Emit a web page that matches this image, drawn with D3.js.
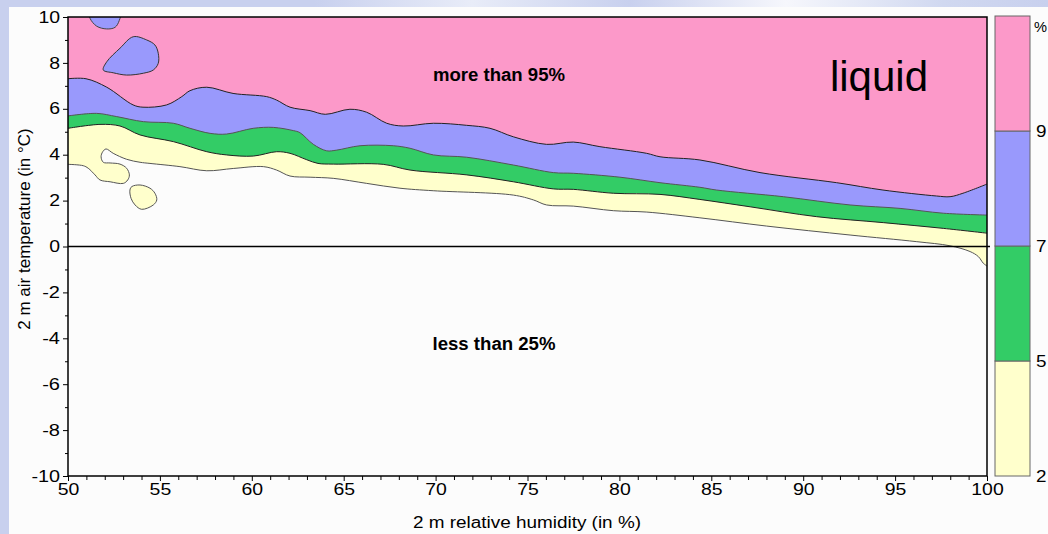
<!DOCTYPE html>
<html>
<head>
<meta charset="utf-8">
<script src="https://cdn.jsdelivr.net/npm/d3@7"></script>
<style>
  body { margin: 0; background: #fcfcfc; }
  svg { display: block; font-family: "Liberation Sans", Arial, sans-serif; }
</style>
</head>
<body>
<div id="chart"></div>
<script>
// contour boundaries, [relative humidity %, temperature °C]
const line95 = [[50,7.31],[50.98,7.31],[52.11,6.94],[53.54,6.17],[54.08,6.07],[55.37,6.17],[56.19,6.53],[56.64,6.79],[57.55,6.94],[58.98,6.67],[60.81,6.53],[61.35,6.38],[62.08,6.07],[63.17,5.92],[64.0,5.76],[65.34,5.98],[66.25,5.85],[67.34,5.37],[68.24,5.25],[69.88,5.37],[71.69,5.28],[72.96,5.15],[74.23,4.78],[76.04,4.45],[77.49,4.55],[78.94,4.35],[81.48,4.06],[82.21,3.91],[84.38,3.77],[87.65,3.22],[91.82,2.78],[94.34,2.46],[97.26,2.2],[97.99,2.17],[98.69,2.32],[100,2.72]];
const line75 = [[50,5.69],[51.56,5.8],[52.65,5.66],[54.1,5.44],[55.73,5.37],[56.64,5.15],[57.73,4.93],[58.63,4.9],[60.08,5.15],[61.17,5.19],[62.26,5.05],[62.62,4.96],[63.35,4.45],[64.07,4.17],[64.62,4.2],[65.89,4.39],[67.7,4.39],[68.61,4.28],[69.88,3.99],[71.69,3.89],[74.23,3.55],[76.41,3.22],[77.49,3.19],[80.03,3.02],[82.21,2.78],[84.38,2.58],[85.29,2.46],[88.92,2.17],[92.55,1.81],[95.27,1.66],[97.63,1.45],[100,1.37]];
const line50 = [[50,5.15],[51.74,5.32],[52.83,5.25],[53.92,4.86],[55.73,4.57],[57.55,4.13],[58.63,3.99],[60.08,3.94],[61.35,4.13],[62.08,4.06],[62.99,3.78],[63.6,3.62],[64.43,3.59],[67.15,3.58],[68.61,3.33],[71.7,3.12],[74.23,2.82],[76.41,2.51],[77.49,2.49],[79.67,2.32],[82.21,2.27],[84.38,2.05],[87.11,1.73],[90.73,1.3],[94.36,1.04],[97.62,0.79],[100,0.58]];
const line25 = [[50,3.58],[50.83,3.52],[51.1,3.41],[51.47,3.12],[51.74,2.9],[52.29,2.82],[53.01,2.75],[53.25,2.9],[53.34,3.12],[53.19,3.41],[52.83,3.59],[52.29,3.64],[51.92,3.67],[51.8,3.91],[51.89,4.13],[52.07,4.25],[52.46,4.06],[53.19,3.8],[53.92,3.67],[54.46,3.62],[56.09,3.48],[57.55,3.3],[58.99,3.4],[60.63,3.48],[61.35,3.33],[62.08,3.07],[63.17,3.02],[64.43,2.97],[66.25,2.75],[68.06,2.54],[69.87,2.43],[74.23,2.24],[75.32,2.03],[76.04,1.81],[77.49,1.76],[79.67,1.56],[81.49,1.5],[84.38,1.25],[88.01,0.89],[92.55,0.5],[96.18,0.21],[97.99,0.03],[99.08,-0.22],[99.53,-0.44],[99.8,-0.73],[100,-0.85]];

// closed islands
const blueIsland1 = [[51.15,10.2],[51.2,9.94],[51.56,9.6],[52.1,9.48],[52.56,9.55],[52.79,9.85],[52.85,10.2]];
const blueIsland2 = [[51.92,7.69],[52.11,8.05],[52.83,8.64],[53.55,9.14],[54.28,9.0],[54.73,8.78],[54.91,8.42],[54.91,7.98],[54.64,7.69],[54.1,7.55],[53.19,7.47],[52.46,7.57]];
const yellowIsland = [[53.37,2.46],[53.47,2.61],[53.92,2.68],[54.46,2.54],[54.73,2.32],[54.83,2.03],[54.64,1.81],[54.01,1.62],[53.65,1.81],[53.43,2.1]];

const bandColors = ["#ffffcc", "#33cc66", "#9999fc", "#fc99c9"];
// the legend labels run off the right edge of the slide, only their first glyph shows
const legendLabels = ["2", "5", "7", "9", "%"];
const xTicks = d3.range(50, 101, 5);
const yTicks = d3.range(-10, 11, 2);

const W = 1048, H = 534;
const mLeft = 68, mRight = 987, mTop = 17, mBottom = 476;

const svg = d3.select("#chart").append("svg")
  .attr("width", W).attr("height", H);

// slide background
const grad = svg.append("defs").append("linearGradient").attr("id", "topg");
grad.selectAll("stop")
  .data([[0, "#c8d0ee"], [0.3, "#c8d0ee"], [0.45, "#e8ecf8"], [0.6, "#c8d0ee"], [0.75, "#f6f7fc"], [0.9, "#d0d8f0"], [1, "#c8d0ee"]])
  .enter().append("stop")
  .attr("offset", d => d[0]).attr("stop-color", d => d[1]);
svg.append("rect").attr("width", W).attr("height", 7).attr("fill", "url(#topg)");
svg.append("rect").attr("y", 0).attr("width", 9).attr("height", H).attr("fill", "#c8d0ee");

const x = d3.scaleLinear().domain([50, 100]).range([mLeft, mRight]);
const y = d3.scaleLinear().domain([-10, 10]).range([mBottom, mTop]);

const plot = svg.append("g");
plot.append("clipPath").attr("id", "clip")
  .append("rect").attr("x", mLeft).attr("y", mTop).attr("width", mRight - mLeft).attr("height", mBottom - mTop);

const g = plot.append("g").attr("clip-path", "url(#clip)");
g.append("rect").attr("x", mLeft).attr("y", mTop).attr("width", mRight - mLeft).attr("height", mBottom - mTop).attr("fill", "#fcfcfc");

const line = d3.line().x(d => x(d[0])).y(d => y(d[1])).curve(d3.curveCatmullRom.alpha(0.5));

// area above a boundary: close the path through the top corners
function above(pts) {
  return line(pts) + `L${x(100) + 2},${y(10) - 2}L${x(50) - 2},${y(10) - 2}Z`;
}

[line25, line50, line75, line95].forEach((pts, i) => {
  g.append("path").attr("d", above(pts)).attr("fill", bandColors[i]);
});
[line25, line50, line75, line95].forEach((pts, i) => {
  g.append("path").attr("d", line(pts)).attr("fill", "none")
    .attr("stroke", i % 2 ? "#222" : "#555").attr("stroke-width", 1);
});

const closed = d3.line().x(d => x(d[0])).y(d => y(d[1])).curve(d3.curveCatmullRomClosed.alpha(0.5));
g.append("path").attr("d", closed(blueIsland1)).attr("fill", bandColors[2]).attr("stroke", "#444");
g.append("path").attr("d", closed(blueIsland2)).attr("fill", bandColors[2]).attr("stroke", "#333");
g.append("path").attr("d", closed(yellowIsland)).attr("fill", bandColors[0]).attr("stroke", "#555");

// zero line
plot.append("line").attr("x1", mLeft).attr("x2", mRight + 3)
  .attr("y1", y(0)).attr("y2", y(0)).attr("stroke", "#000").attr("stroke-width", 1.5);

// frame
plot.append("rect").attr("x", mLeft).attr("y", mTop).attr("width", mRight - mLeft).attr("height", mBottom - mTop)
  .attr("fill", "none").attr("stroke", "#000").attr("stroke-width", 1.5);

// the slide is stretched sideways, so widen the glyphs a bit
const wideLen = d => String(d).replace("-", "").length * 10.8 + (d < 0 ? 7 : 0);

// axes
svg.append("g").attr("transform", `translate(${mLeft},0)`)
  .call(d3.axisLeft(y).tickValues(yTicks).tickSize(5).tickPadding(3).tickFormat(d => String(d)));
svg.append("g").attr("transform", `translate(${mLeft},0)`)
  .call(d3.axisLeft(y).tickValues(d3.range(-9, 10, 2)).tickSize(3).tickFormat(""));
svg.append("g").attr("transform", `translate(0,${mBottom})`)
  .call(d3.axisBottom(x).tickValues(xTicks).tickSize(5).tickPadding(3));
svg.append("g").attr("transform", `translate(0,${mBottom})`)
  .call(d3.axisBottom(x).tickValues(d3.range(50, 101, 1).filter(v => v % 5)).tickSize(4).tickFormat(""));
svg.selectAll(".domain").remove();
svg.selectAll(".tick line").attr("stroke", "#000");
svg.selectAll(".tick text").attr("font-size", 16).attr("fill", "#000")
  .attr("font-family", "'Liberation Sans', Arial, sans-serif")
  .attr("textLength", wideLen).attr("lengthAdjust", "spacingAndGlyphs");

// titles
svg.append("text").attr("x", 527).attr("y", 528).attr("text-anchor", "middle")
  .attr("font-size", 16).attr("textLength", 228).attr("lengthAdjust", "spacingAndGlyphs")
  .text("2 m relative humidity (in %)");
svg.append("text").attr("transform", "translate(30,229) rotate(-90)").attr("text-anchor", "middle")
  .attr("font-size", 17).text("2 m air temperature (in °C)");

// in-plot labels
svg.append("text").attr("x", 499).attr("y", 81).attr("text-anchor", "middle")
  .attr("font-size", 18).attr("font-weight", "bold")
  .attr("textLength", 132).attr("lengthAdjust", "spacingAndGlyphs").text("more than 95%");
svg.append("text").attr("x", 494).attr("y", 350).attr("text-anchor", "middle")
  .attr("font-size", 18).attr("font-weight", "bold")
  .attr("textLength", 123).attr("lengthAdjust", "spacingAndGlyphs").text("less than 25%");
svg.append("text").attr("x", 879).attr("y", 91).attr("text-anchor", "middle")
  .attr("font-size", 42).text("liquid");

// legend colour bar
const ly = d3.scaleLinear().domain([0, 4]).range([476, 16]);
const legend = svg.append("g");
legend.selectAll("rect").data(bandColors).enter().append("rect")
  .attr("x", 995).attr("width", 35)
  .attr("y", (d, i) => ly(i + 1)).attr("height", (d, i) => ly(i) - ly(i + 1))
  .attr("fill", d => d).attr("stroke", "#666").attr("stroke-width", 1);
legend.selectAll("text").data(legendLabels).enter().append("text")
  .attr("x", (d, i) => i === 4 ? 1034 : 1036)
  .attr("y", (d, i) => ly(i) + (i === 4 ? 16 : 6))
  .attr("font-size", (d, i) => i === 4 ? 15 : 16)
  .attr("textLength", (d, i) => i === 4 ? 13 : 10.5).attr("lengthAdjust", "spacingAndGlyphs")
  .text(d => d);
</script>
</body>
</html>
